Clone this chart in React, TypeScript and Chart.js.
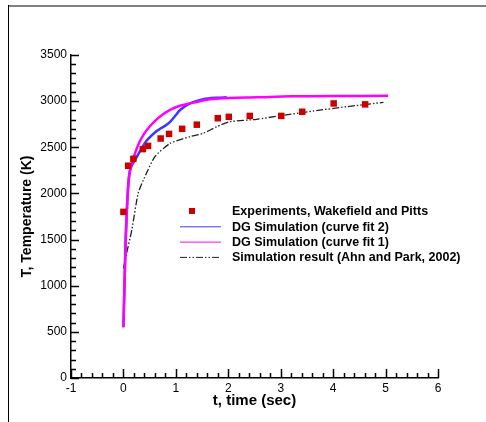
import React, { useEffect, useRef } from "react";
import { Chart, registerables } from "chart.js";

Chart.register(...registerables);

// ---------- data ----------
const expTime = [0, 0.09, 0.19, 0.37, 0.47, 0.71, 0.87, 1.12, 1.4, 1.8, 2.01, 2.41, 3.01, 3.41, 4.01, 4.61];
const expTemp = [1800, 2300, 2375, 2480, 2515, 2595, 2645, 2700, 2745, 2815, 2830, 2840, 2840, 2885, 2975, 2965];

const fit2Time = [0, 0.02, 0.05, 0.12, 0.25, 0.44, 0.6, 0.7, 0.8, 0.89, 1.0, 1.08, 1.27, 1.52, 1.78, 1.97];
const fit2Temp = [550, 1000, 1600, 2240, 2390, 2570, 2660, 2700, 2735, 2775, 2850, 2904, 2976, 3020, 3037, 3041];

const fit1Time = [0, 0.02, 0.05, 0.1, 0.15, 0.2, 0.3, 0.4, 0.5, 0.63, 0.75, 0.89, 1.05, 1.27, 1.5, 1.65, 2.03, 2.54, 3.2, 4.0, 5.05];
const fit1Temp = [550, 1000, 1600, 2150, 2300, 2400, 2550, 2650, 2725, 2800, 2855, 2905, 2945, 2976, 3005, 3020, 3034, 3041, 3052, 3055, 3058];

const ahnTime = [0, 0.06, 0.16, 0.28, 0.38, 0.6, 0.89, 1.27, 1.52, 1.78, 2.03, 2.54, 2.99, 3.62, 4.26, 4.96];
const ahnTemp = [1188, 1351, 1604, 2001, 2145, 2398, 2542, 2615, 2651, 2723, 2777, 2803, 2842, 2893, 2940, 2987];

const seriesNames = [
  "Experiments, Wakefield and Pitts",
  "DG Simulation (curve fit 2)",
  "DG Simulation (curve fit 1)",
  "Simulation result (Ahn and Park, 2002)",
];

const xMin = -1;
const xMax = 6;
const xMajorStep = 1;
const xMinorStep = 0.2;
const yMin = 0;
const yMax = 3500;
const yMajorStep = 500;
const yMinorStep = 100;

const xTitle = "t, time (sec)";
const yTitle = "T, Temperature (K)";

const FONT = "'Liberation Sans', Arial, Helvetica, sans-serif";

const toPts = (xs: number[], ys: number[]) => xs.map((x, i) => ({ x, y: ys[i] }));

const W = 486;
const H = 422;

const framePlugin = {
  id: "frame",
  beforeDraw(chart: any) {
    const ctx = chart.ctx;
    ctx.save();
    ctx.fillStyle = "#ffffff";
    ctx.fillRect(0, 0, chart.width, chart.height);
    ctx.strokeStyle = "#808080";
    ctx.lineWidth = 2;
    ctx.beginPath();
    ctx.moveTo(8, 6);
    ctx.lineTo(486, 6);
    ctx.stroke();
    ctx.strokeStyle = "#000000";
    ctx.lineWidth = 1;
    ctx.beginPath();
    ctx.moveTo(8.5, 5);
    ctx.lineTo(8.5, chart.height);
    ctx.stroke();
    ctx.restore();
  },
};

const ticksPlugin = {
  id: "inTicks",
  afterDraw(chart: any) {
    const ctx = chart.ctx;
    const xs = chart.scales.x;
    const ys = chart.scales.y;
    const bottom = ys.getPixelForValue(yMin);
    const left = xs.getPixelForValue(xMin);
    ctx.save();
    ctx.strokeStyle = "#000";
    ctx.lineWidth = 1.5;
    ctx.beginPath();
    const nx = Math.round((xMax - xMin) / xMinorStep);
    for (let i = 0; i <= nx; i++) {
      const v = xMin + i * xMinorStep;
      const major = i % Math.round(xMajorStep / xMinorStep) === 0;
      const px = Math.round(xs.getPixelForValue(v)) + 0.5;
      ctx.moveTo(px, bottom);
      ctx.lineTo(px, bottom - (major ? 9 : 5));
    }
    const ny = Math.round((yMax - yMin) / yMinorStep);
    for (let i = 0; i <= ny; i++) {
      const v = yMin + i * yMinorStep;
      const major = i % Math.round(yMajorStep / yMinorStep) === 0;
      const py = Math.round(ys.getPixelForValue(v)) + 0.5;
      ctx.moveTo(left, py);
      ctx.lineTo(left + (major ? 8 : 5), py);
    }
    ctx.stroke();
    ctx.restore();
  },
};

const legendPlugin = {
  id: "customLegend",
  afterDatasetsDraw(chart: any) {
    const ctx = chart.ctx;
    const x1 = 180;
    const x2 = 221;
    const tx = 232;
    const y0 = 211;
    const dy = 15.3;
    ctx.save();
    ctx.font = `bold 12.5px ${FONT}`;
    ctx.textBaseline = "middle";
    ctx.fillStyle = "#000";
    chart.data.datasets.forEach((ds: any, i: number) => {
      const y = y0 + i * dy;
      if (ds.showLine === false) {
        ctx.fillStyle = ds.backgroundColor;
        ctx.fillRect(189, y - 3, 6, 6);
      } else {
        ctx.strokeStyle = ds.borderColor;
        ctx.lineWidth = 1;
        ctx.setLineDash(ds.borderDash || []);
        ctx.beginPath();
        ctx.moveTo(x1, y + 0.5);
        ctx.lineTo(x2, y + 0.5);
        ctx.stroke();
        ctx.setLineDash([]);
      }
      ctx.fillStyle = "#000";
      ctx.fillText(seriesNames[i], tx, y + 1);
    });
    ctx.restore();
  },
};

export default function App() {
  const ref = useRef<HTMLCanvasElement | null>(null);

  useEffect(() => {
    if (!ref.current) return;
    const chart = new Chart(ref.current, {
      type: "scatter",
      data: {
        datasets: [
          {
            label: seriesNames[0],
            data: toPts(expTime, expTemp),
            showLine: false,
            pointStyle: "rect",
            pointRadius: 4.6,
            backgroundColor: "#CC0000",
            borderColor: "#CC0000",
            borderWidth: 0,
            order: 0,
          },
          {
            label: seriesNames[1],
            data: toPts(fit2Time, fit2Temp),
            showLine: true,
            pointRadius: 0,
            borderColor: "#3a3aff",
            backgroundColor: "#3a3aff",
            borderWidth: 2.5,
            tension: 0.3,
            order: 2,
          },
          {
            label: seriesNames[2],
            data: toPts(fit1Time, fit1Temp),
            showLine: true,
            pointRadius: 0,
            borderColor: "#ff00ff",
            backgroundColor: "#ff00ff",
            borderWidth: 2.5,
            tension: 0.3,
            order: 1,
          },
          {
            label: seriesNames[3],
            data: toPts(ahnTime, ahnTemp),
            showLine: true,
            pointRadius: 0,
            borderColor: "#222222",
            backgroundColor: "#222222",
            borderWidth: 1.3,
            borderDash: [7, 2, 1.5, 2, 1.5, 2],
            tension: 0.2,
            order: 3,
          },
        ],
      },
      options: {
        responsive: false,
        animation: false,
        events: [],
        layout: { padding: { left: 0, right: 48, top: 55, bottom: 0 } },
        plugins: {
          legend: { display: false },
          tooltip: { enabled: false },
          title: { display: false },
        },
        scales: {
          x: {
            type: "linear",
            min: xMin,
            max: xMax,
            afterFit: (s: any) => {
              s.height = 44;
            },
            grid: { display: false, drawTicks: false },
            border: { display: true, color: "#000", width: 1.5 },
            ticks: {
              stepSize: xMajorStep,
              color: "#000",
              padding: 3,
              font: { family: FONT, size: 12 },
              maxRotation: 0,
              callback: (v: any) => String(v),
            },
            title: {
              display: true,
              text: xTitle,
              color: "#000",
              font: { family: FONT, size: 15, weight: "bold" },
              padding: { top: 0, bottom: 12 },
            },
          },
          y: {
            type: "linear",
            min: yMin,
            max: yMax,
            afterFit: (s: any) => {
              s.width = 71;
            },
            grid: { display: false, drawTicks: false },
            border: { display: true, color: "#000", width: 1.5 },
            ticks: {
              stepSize: yMajorStep,
              color: "#000",
              padding: 4,
              font: { family: FONT, size: 12 },
              callback: (v: any) => String(v),
            },
            title: {
              display: true,
              text: yTitle,
              color: "#000",
              font: { family: FONT, size: 14, weight: "bold" },
              padding: { top: 18.6, bottom: 0 },
            },
          },
        },
      },
      plugins: [framePlugin, ticksPlugin, legendPlugin],
    } as any);
    return () => chart.destroy();
  }, []);

  return (
    <div style={{ position: "fixed", left: 0, top: 0, width: W, height: H, background: "#fff" }}>
      <canvas ref={ref} width={W} height={H} style={{ display: "block", width: W, height: H }} />
    </div>
  );
}
